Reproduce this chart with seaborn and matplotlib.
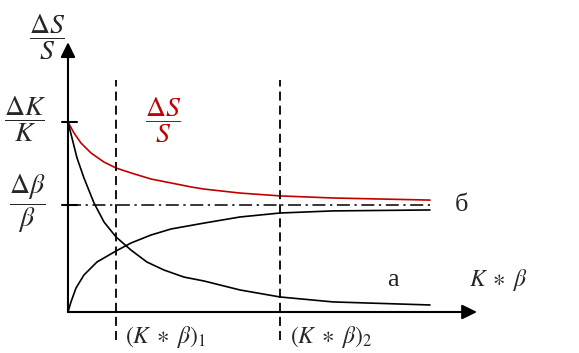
import matplotlib
matplotlib.use("Agg")
import pandas as pd
import matplotlib.pyplot as plt
import seaborn as sns

# values (x: K*beta in arbitrary units, y: relative change)
red_x = [0, 0.166, 0.36, 0.635, 0.994, 1.326, 1.74, 2.29, 2.85, 3.40, 3.76, 4.75, 5.86, 7.32, 10]
red_y = [1.0, 0.942, 0.889, 0.837, 0.789, 0.758, 0.732, 0.700, 0.679, 0.658, 0.647, 0.626, 0.611, 0.600, 0.589]

a_x = [0, 0.11, 0.249, 0.442, 0.718, 0.994, 1.326, 1.74, 2.18, 2.65, 3.20, 3.76, 4.75, 5.86, 7.32, 10]
a_y = [1.0, 0.916, 0.811, 0.705, 0.574, 0.474, 0.395, 0.326, 0.263, 0.221, 0.184, 0.163, 0.116, 0.079, 0.053, 0.037]

b_x = [0, 0.083, 0.221, 0.442, 0.80, 1.326, 1.74, 2.29, 2.85, 3.76, 4.75, 5.86, 7.32, 10]
b_y = [0, 0.053, 0.126, 0.195, 0.263, 0.321, 0.363, 0.405, 0.437, 0.468, 0.50, 0.521, 0.532, 0.537]

level_dk = 1.0        # dK/K
level_db = 0.563      # dbeta/beta
x_marks = [1.33, 5.86]  # (K*beta)_1, (K*beta)_2
x_end = 10

RED = "#C00000"


def main():
    sns.set_theme(style="white")
    plt.rcParams["mathtext.fontset"] = "stix"

    fig = plt.figure(figsize=(5.79, 3.53), dpi=100)
    ax = fig.add_axes([0, 0, 1, 1])
    ax.set_xlim(-1.878, 14.116)
    ax.set_ylim(-0.2158, 1.642)
    ax.axis("off")

    curves = pd.DataFrame({
        "x": red_x + a_x + b_x,
        "y": red_y + a_y + b_y,
        "curve": ["s"] * len(red_x) + ["a"] * len(a_x) + ["b"] * len(b_x),
    })
    sns.lineplot(data=curves, x="x", y="y", hue="curve", units="curve",
                 estimator=None, sort=False, legend=False, ax=ax,
                 palette={"s": RED, "a": "black", "b": "black"}, linewidth=1.2)

    # dash-dot asymptote
    ax.plot([0, x_end], [level_db, level_db], color="black", lw=1.1,
            linestyle=(0, (8.5, 3, 1.5, 3)))

    # vertical dashed markers
    for xm in x_marks:
        ax.plot([xm, xm], [-0.15, 1.22], color="black", lw=1.3,
                linestyle=(0, (5, 2.8)))

    # axes with arrows
    arrow = dict(arrowstyle="-|>,head_length=0.45,head_width=0.22",
                 color="black", lw=1.5, mutation_scale=20, shrinkA=0, shrinkB=0)
    ax.annotate("", xy=(11.3, 0), xytext=(0, 0), arrowprops=arrow)
    ax.annotate("", xy=(0, 1.42), xytext=(0, 0), arrowprops=arrow)

    # small ticks on y axis
    for lv in [level_dk, level_db]:
        ax.plot([-0.17, 0.24], [lv, lv], color="black", lw=1.5)

    fs = 20
    ax.text(-0.58, 1.447, r"$\dfrac{\Delta S}{S}$", fontsize=fs, ha="center", va="center")
    ax.text(-1.19, 1.016, r"$\dfrac{\Delta K}{K}$", fontsize=fs, ha="center", va="center")
    ax.text(-1.13, 0.568, r"$\dfrac{\Delta \beta}{\beta}$", fontsize=fs, ha="center", va="center")
    ax.text(2.62, 1.01, r"$\dfrac{\Delta S}{S}$", fontsize=fs, ha="center", va="center", color=RED)

    ax.text(10.88, 0.563, "б", fontsize=19, ha="center", va="center", family="Liberation Serif")
    ax.text(8.98, 0.168, "а", fontsize=19, ha="center", va="center", family="Liberation Serif")
    ax.text(11.88, 0.168, r"$K\;\ast\;\beta$", fontsize=17, ha="center", va="center")
    ax.text(1.57, -0.13, r"$(K\;\ast\;\beta)_1$", fontsize=17, ha="left", va="center")
    ax.text(6.13, -0.13, r"$(K\;\ast\;\beta)_2$", fontsize=17, ha="left", va="center")

    fig.savefig("out.png", dpi=100)
    plt.close(fig)


if __name__ == "__main__":
    main()
